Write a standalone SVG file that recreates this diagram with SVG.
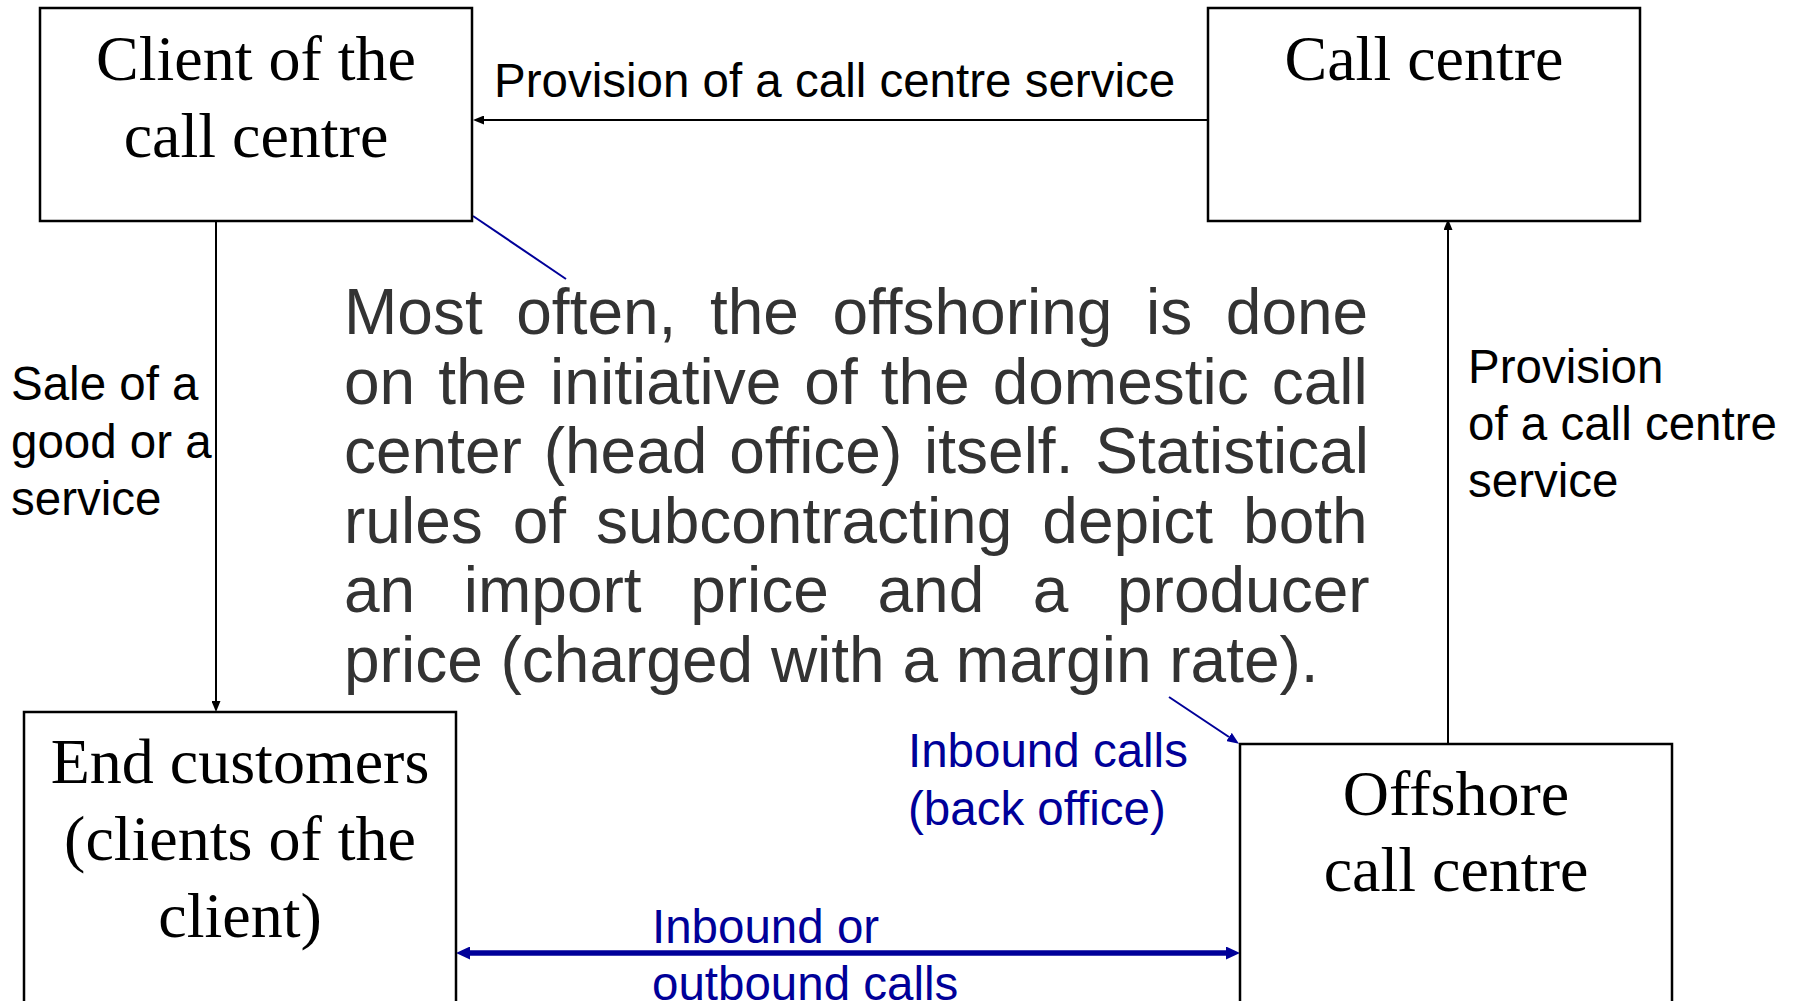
<svg xmlns="http://www.w3.org/2000/svg" width="1794" height="1001" viewBox="0 0 1794 1001">
<style>
.box{fill:#fff;stroke:#000;stroke-width:2.5}
.nt{font-family:"Liberation Serif","Times New Roman",serif;font-size:64px;fill:#000;text-anchor:middle}
.lb{font-family:"Liberation Sans",Arial,sans-serif;font-size:47.5px;fill:#000}
.bl{font-family:"Liberation Sans",Arial,sans-serif;font-size:47.5px;fill:#000099}
.body{font-family:"Liberation Sans",Arial,sans-serif;font-size:64px;fill:#333}
.cb{stroke:#000;stroke-width:2;fill:none}
.cblue{stroke:#000099;stroke-width:2;fill:none}
</style>
<defs>
<marker id="ak" markerUnits="userSpaceOnUse" markerWidth="11" markerHeight="9" refX="0" refY="4.5" orient="auto-start-reverse" viewBox="0 0 11 9">
<path d="M0,0 L11,4.5 L0,9 z" fill="#000"/>
</marker>
<marker id="ab" markerUnits="userSpaceOnUse" markerWidth="14" markerHeight="13" refX="0" refY="6.5" orient="auto-start-reverse" viewBox="0 0 14 13">
<path d="M0,0 L14,6.5 L0,13 z" fill="#000099"/>
</marker>
<marker id="abs" markerUnits="userSpaceOnUse" markerWidth="12" markerHeight="10" refX="0" refY="5" orient="auto" viewBox="0 0 12 10">
<path d="M0,0 L12,5 L0,10 z" fill="#000099"/>
</marker>
</defs>

<g id="connectors">
<line class="cb" x1="1208" y1="120" x2="484" y2="120" marker-end="url(#ak)"/>
<line class="cb" x1="216" y1="215" x2="216" y2="701" marker-end="url(#ak)"/>
<line class="cb" x1="1448" y1="744" x2="1448" y2="230" marker-end="url(#ak)"/>
<line class="cblue" x1="473" y1="216" x2="566" y2="279"/>
<line class="cblue" x1="1169" y1="697" x2="1229" y2="737" marker-end="url(#abs)"/>
<line stroke="#000099" stroke-width="5.5" x1="470" y1="953" x2="1226" y2="953" marker-start="url(#ab)" marker-end="url(#ab)"/>
<text class="lb" x="494" y="97">Provision of a call centre service</text>
<text class="lb" x="11" y="400">Sale of a</text>
<text class="lb" x="11" y="458">good or a</text>
<text class="lb" x="11" y="515">service</text>
<text class="lb" x="1468" y="383">Provision</text>
<text class="lb" x="1468" y="440">of a call centre</text>
<text class="lb" x="1468" y="497">service</text>
<text class="bl" x="908" y="767">Inbound calls</text>
<text class="bl" x="908" y="825">(back office)</text>
<text class="bl" x="652" y="943">Inbound or</text>
<text class="bl" x="652" y="1000">outbound calls</text>
</g>

<g id="client">
<rect class="box" x="40" y="8" width="432" height="213"/>
<text class="nt" x="256" y="80">Client of the</text>
<text class="nt" x="256" y="157">call centre</text>
</g>

<g id="callcentre">
<rect class="box" x="1208" y="8" width="432" height="213"/>
<text class="nt" x="1424" y="80">Call centre</text>
</g>

<g id="endcustomers">
<rect class="box" x="24" y="712" width="432" height="300"/>
<text class="nt" x="240" y="783">End customers</text>
<text class="nt" x="240" y="860">(clients of the</text>
<text class="nt" x="240" y="937">client)</text>
</g>

<g id="offshore">
<rect class="box" x="1240" y="744" width="432" height="300"/>
<text class="nt" x="1456" y="815">Offshore</text>
<text class="nt" x="1456" y="891">call centre</text>
</g>

<g id="note">
<text class="body" x="344" y="334" word-spacing="15.8">Most often, the offshoring is done</text>
<text class="body" x="344" y="404" word-spacing="5.2">on the initiative of the domestic call</text>
<text class="body" x="344" y="473" word-spacing="4">center (head office) itself. Statistical</text>
<text class="body" x="344" y="543" word-spacing="12.2">rules of subcontracting depict both</text>
<text class="body" x="344" y="612" word-spacing="30.8">an import price and a producer</text>
<text class="body" x="344" y="682">price (charged with a margin rate).</text>
</g>
</svg>
